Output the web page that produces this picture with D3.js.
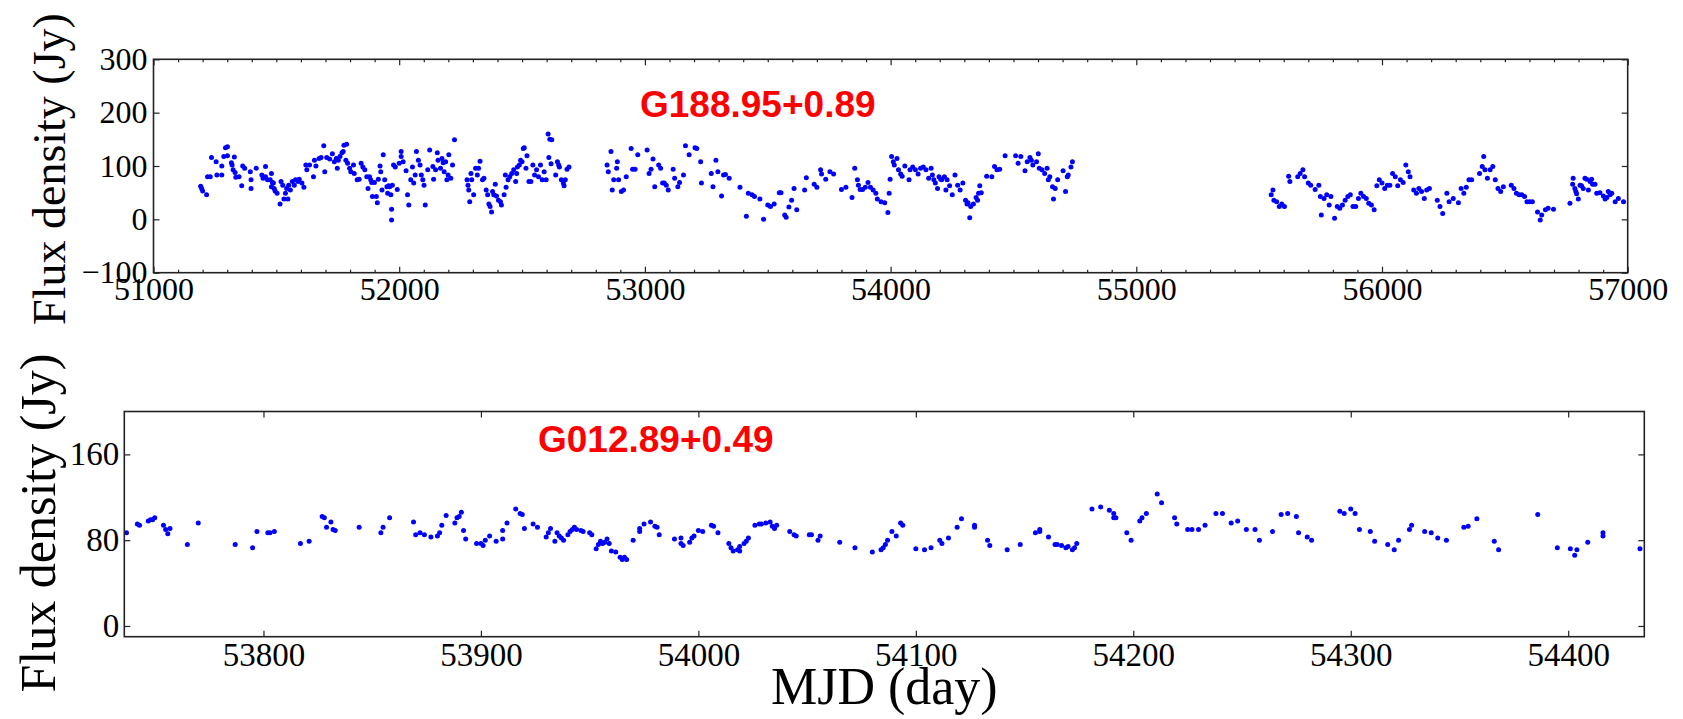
<!DOCTYPE html>
<html>
<head>
<meta charset="utf-8">
<script src="https://cdn.jsdelivr.net/npm/d3@7"></script>
<style>
  body { margin: 0; background: #fff; }
</style>
</head>
<body>
<div id="chart-area"></div>
<script>
// G188.95+0.89 light curve (MJD, Jy)
var g188Mjd = [51192,51196,51200,51216,51220,51231,51236,51255,51258,51278,51278,51286,51293,51301,51301,51317,51320,51329,51324,51332,51335,51348,51359,51363,51371,51394,51397,51397,51418,51441,51446,51456,51456,51464,51475,51480,51484,51488,51480,51491,51495,51503,51515,51519,51526,51531,51537,51542,51547,51550,51557,51565,51573,51578,51588,51593,51604,51612,51620,51624,51635,51651,51655,51661,51674,51682,51693,51697,51705,51717,51728,51736,51744,51748,51752,51759,51767,51772,51775,51786,51783,51790,51798,51803,51814,51817,51829,51837,51845,51852,51860,51868,51873,51879,51884,51888,51891,51899,51907,51911,51915,51922,51925,51930,51935,51941,51950,51953,51957,51961,51966,51969,51969,51972,51977,51984,51992,52000,52008,52008,52016,52028,52034,52039,52047,52054,52059,52065,52070,52078,52085,52090,52096,52101,52106,52116,52124,52137,52140,52148,52155,52158,52168,52174,52179,52183,52189,52194,52199,52202,52210,52217,52225,
  52276,52280,52283,52287,52292,52295,52303,52311,52318,52323,52329,52339,52345,52354,52360,52365,52370,52376,52380,52385,52391,52396,52404,52412,52416,52427,52432,52435,52443,52450,52458,52466,52474,52478,52481,52489,52494,52500,52505,52509,52516,52520,52528,52536,52544,52551,52559,52567,52575,52582,52590,52598,52606,52609,52613,52618,52621,52637,52644,52649,52652,52660,52668,52671,52676,52683,52691,
  52846,52851,52862,52867,52873,52885,52888,52893,52904,52913,52924,52944,52950,52960,52971,53009,53017,53025,53033,53040,53056,53064,53072,53079,53087,53095,53115,53121,53134,53141,53157,53165,53180,53204,53211,53227,53230,53270,53277,53289,53297,53312,53320,53328,53343,53387,53413,53421,
  53436,53446,53468,53483,53500,53511,53526,53547,53554,53569,53575,53586,53597,53607,53618,53650,53657,53689,53700,53715,53719,53736,53753,53768,53800,53818,53843,53854,53865,53869,53876,53886,53897,53908,53918,53929,53940,53946,53961,53976,53989,53994,53998,54004,54011,54015,54026,54032,54041,54047,54058,54075,54079,54090,54101,54112,54122,54133,54144,54155,54165,54170,54176,54182,54191,54197,54204,54208,54219,54225,54230,54240,54251,54262,54273,54283,54294,54305,54311,54315,54322,54326,54337,54348,54354,54358,54363,54369,54391,54412,54423,54433,54444,54466,54509,54519,54530,54547,54556,54567,54573,54579,54594,54601,54605,54616,54627,54637,54642,54648,54659,54663,54670,54680,54702,54712,54719,54723,54734,54740,
  55549,55556,55560,55571,55582,55592,55603,55620,55625,55657,55667,55678,55685,55700,55710,55728,55743,55749,55753,55764,55775,55785,55792,55807,55818,55828,55839,55850,55861,55871,55882,55893,55904,55914,55925,55936,55946,55957,55968,55979,55989,56000,56011,56022,56032,56043,56054,56064,56075,56086,56097,56107,56114,56129,56140,56150,56161,56172,56182,56193,56225,56236,56247,56264,56273,56290,56311,56322,56333,56343,56354,56365,56397,56408,56414,56419,56429,56440,56451,56461,56472,56483,56494,56526,56537,56547,56558,56569,56580,56590,56601,56612,56633,56644,56650,56665,56676,56698,
  56765,56776,56778,56785,56789,56792,56799,56806,56812,56819,56826,56833,56840,56847,56853,56857,56867,56874,56887,56901,56908,56915,56921,56928,56935,56949,56962,56983];
var g188Flux = [62,58,53,46,80,80,116,108,83,100,83,118,134,136,119,106,102,117,93,88,79,80,63,100,96,89,74,58,96,83,77,99,80,74,74,86,69,68,61,58,53,49,29,71,64,38,49,58,38,64,55,71,64,74,71,75,68,60,102,93,102,80,111,100,114,116,138,89,116,113,123,108,114,96,111,118,125,127,139,141,111,105,96,89,102,86,74,75,105,98,93,80,58,80,74,69,43,69,43,31,75,100,89,55,121,74,61,49,63,61,46,19,-1,64,102,98,56,105,127,118,108,91,46,27,74,98,68,83,127,111,102,83,74,64,27,93,130,99,75,93,125,111,96,114,106,89,108,74,83,121,77,102,149,
  74,64,55,33,86,74,46,96,83,96,109,74,77,55,46,29,24,14,52,46,66,44,36,33,27,46,83,60,74,80,86,93,71,86,98,102,111,108,133,134,96,119,71,71,102,83,93,80,102,74,89,74,160,116,150,104,149,83,108,102,98,74,68,63,74,94,98,
  102,89,127,55,74,96,108,74,52,55,80,133,94,94,121,130,86,94,113,61,102,96,68,68,64,55,94,77,61,69,83,138,121,134,133,108,68,86,61,111,89,44,83,84,77,60,6,49,
  46,43,38,0,27,24,29,50,50,8,4,23,36,58,18,55,78,66,60,93,85,75,89,85,56,60,41,96,74,64,56,56,60,69,60,55,49,38,33,31,13,49,75,118,108,102,114,93,85,81,100,74,93,98,93,85,96,98,93,77,96,83,74,68,58,80,75,74,80,55,74,63,46,83,64,55,68,36,29,31,3,24,29,41,36,49,63,50,81,80,99,93,94,119,119,105,118,91,108,116,111,102,108,123,96,93,86,96,74,80,61,38,58,74,91,52,80,83,98,108,
  46,55,36,33,24,29,24,81,71,80,86,93,80,68,64,56,64,43,8,39,46,27,43,2,24,21,27,36,43,46,24,24,39,49,43,39,30,27,18,63,74,68,58,64,64,86,80,63,74,69,102,89,80,55,49,58,52,39,55,58,36,24,11,49,33,39,31,58,49,60,74,74,86,99,118,93,77,93,99,74,58,52,61,64,58,49,46,46,43,33,33,33,14,-1,8,18,21,19,
  30,66,77,58,52,48,38,64,63,58,77,75,55,71,75,66,66,49,50,44,38,41,52,46,49,33,39,33];

// G012.89+0.49 light curve (MJD, Jy)
var g012Mjd = [53737,53742,53743,53747,53748,53749,53750,53754,53755,53756,53757,53765,53770,53787,53795,53797,53802,53803,53805,53817,53821,53827,53828,53831,53829,53832,53833,53844,53854,53855,53858,53869,53870,53872,53874,53877,53880,53881,53882,53884,53888,53889,53890,53891,53892,53893,53898,53900,53901,53902,53904,53907,53910,53910,53912,53916,53918,53919,53920,53924,53926,53930,53931,53932,53934,53935,53936,53937,53938,53940,53941,53942,53943,53944,53946,53947,53950,53951,53953,53954,53955,53956,53957,53958,53959,53960,53962,53964,53965,53966,53967,53970,53973,53973,53975,53978,53980,53981,53982,53989,53992,53992,53993,53996,53997,53998,54000,54002,54006,54007,54009,54014,54015,54016,54018,54019,54019,54021,54022,54023,54026,54028,54029,54031,54033,54034,54035,54036,54042,54044,54045,54051,54052,54055,54056,54065,54072,
  54080,54084,54085,54086,54087,54089,54091,54093,54094,54100,54104,54107,54111,54112,54115,54119,54121,54127,54127,54133,54134,54142,54148,54155,54157,54157,54161,54164,54165,54167,54169,54170,54172,54173,54174,54181,54185,54189,54191,54191,54192,54197,54199,54203,54204,54206,54211,54213,54219,54220,54225,54227,54230,54233,54238,54241,54245,54248,54252,54256,54258,54264,54268,54271,54275,54276,54280,54282,54295,54297,54300,54302,54304,54309,54311,54317,54320,54322,54327,54328,54334,54337,54340,54344,54352,54354,54358,54366,54368,54386,54395,54401,54403,54404,54409,54416,54416,54433];
var g012Flux = [87,95,94,98,99,99,101,94,90,86,91,76,96,76,73,88,87,87,88,77,79,102,101,97,92,90,89,92,87,92,101,97,85,87,85,83,84,87,94,103,96,101,102,106,89,81,77,77,75,80,84,79,81,89,96,109,105,104,91,95,92,83,87,91,79,87,84,82,80,85,88,90,92,90,89,88,87,85,72,76,79,77,78,81,77,70,69,64,62,64,62,80,88,91,95,97,93,92,85,81,82,77,75,78,82,84,89,88,94,93,87,77,73,70,71,70,74,77,79,82,94,95,95,96,97,93,91,94,88,85,84,85,85,80,84,78,73,
  69,71,73,76,80,88,84,96,94,72,71,73,80,77,82,92,100,94,92,80,75,71,76,87,90,88,83,76,76,75,73,74,71,73,77,109,111,108,105,101,101,87,80,98,101,105,123,115,101,95,90,90,90,94,105,105,96,98,90,90,80,88,104,105,102,87,83,80,107,105,109,105,90,88,79,76,71,80,90,94,88,87,82,80,92,93,100,79,71,104,73,72,66,71,78,87,84,72];

// Axis ticks
var g188XMajor = [51000, 52000, 53000, 54000, 55000, 56000, 57000];
var g188YTicks = [-100, 0, 100, 200, 300];
var g012XTicks = [53800, 53900, 54000, 54100, 54200, 54300, 54400];
var g012YTicks = [0, 80, 160];

var width = 1683;
var height = 719;
var serif = "'Liberation Serif', 'Times New Roman', serif";

var svg = d3.select("#chart-area")
    .append("svg")
    .attr("width", width)
    .attr("height", height)
    .style("display", "block")
    .style("background", "#fff");

function drawPanel(opt) {
    var x = d3.scaleLinear().domain(opt.xDomain).range([opt.left, opt.right]);
    var y = d3.scaleLinear().domain(opt.yDomain).range([opt.bottom, opt.top]);
    var fmt = (d) => { return d < 0 ? "\u2212" + Math.abs(d) : String(d); };

    var clipId = "clip-" + opt.id;
    svg.append("clipPath").attr("id", clipId)
        .append("rect")
        .attr("x", opt.left).attr("y", opt.top)
        .attr("width", opt.right - opt.left).attr("height", opt.bottom - opt.top);

    // points
    var pts = opt.mjd.map((m, i) => { return {mjd: m, flux: opt.flux[i]}; });
    svg.append("g")
        .attr("clip-path", "url(#" + clipId + ")")
        .selectAll("circle")
        .data(pts)
        .enter()
        .append("circle")
        .attr("cx", (d) => { return x(d.mjd); })
        .attr("cy", (d) => { return y(d.flux); })
        .attr("r", 2.5)
        .attr("fill", "#0000ff");

    function style(g, size) {
        g.select(".domain").remove();
        g.selectAll("line").attr("stroke", "#222").attr("stroke-width", 1.2);
        g.selectAll("text").attr("fill", "#000");
        g.attr("font-family", serif).attr("font-size", size);
    }

    // bottom axis with labels
    svg.append("g")
        .attr("transform", "translate(0," + opt.bottom + ")")
        .call(d3.axisBottom(x).tickValues(opt.xTicks).tickSizeInner(-6).tickSizeOuter(0)
            .tickPadding(opt.xPad).tickFormat(d3.format("d")))
        .call((g) => style(g, opt.tickFont));
    svg.append("g")
        .attr("transform", "translate(0," + opt.top + ")")
        .call(d3.axisTop(x).tickValues(opt.xTicks).tickSizeInner(-6).tickSizeOuter(0).tickFormat(""))
        .call((g) => style(g, opt.tickFont));
    if (opt.xMinor) {
        svg.append("g")
            .attr("transform", "translate(0," + opt.bottom + ")")
            .call(d3.axisBottom(x).tickValues(opt.xMinor).tickSizeInner(-3).tickSizeOuter(0).tickFormat(""))
            .call((g) => style(g, opt.tickFont));
        svg.append("g")
            .attr("transform", "translate(0," + opt.top + ")")
            .call(d3.axisTop(x).tickValues(opt.xMinor).tickSizeInner(-3).tickSizeOuter(0).tickFormat(""))
            .call((g) => style(g, opt.tickFont));
    }

    // left / right axes
    svg.append("g")
        .attr("transform", "translate(" + opt.left + ",0)")
        .call(d3.axisLeft(y).tickValues(opt.yTicks).tickSizeInner(-6).tickSizeOuter(0)
            .tickPadding(opt.yPad).tickFormat(fmt))
        .call((g) => style(g, opt.tickFont));
    svg.append("g")
        .attr("transform", "translate(" + opt.right + ",0)")
        .call(d3.axisRight(y).tickValues(opt.yTicks).tickSizeInner(-6).tickSizeOuter(0).tickFormat(""))
        .call((g) => style(g, opt.tickFont));

    // frame
    svg.append("rect")
        .attr("x", opt.left).attr("y", opt.top)
        .attr("width", opt.right - opt.left).attr("height", opt.bottom - opt.top)
        .attr("fill", "none")
        .attr("stroke", "#222")
        .attr("stroke-width", 1.6);

    // source name
    svg.append("text")
        .attr("x", opt.nameX).attr("y", opt.nameY)
        .attr("font-family", "'Liberation Sans', Arial, sans-serif")
        .attr("font-weight", "bold")
        .attr("font-size", "37px")
        .attr("fill", "#ff0000")
        .text(opt.name);

    // Y axis label
    svg.append("text")
        .attr("transform", "translate(" + opt.yLabelX + "," + opt.yLabelY + ") rotate(-90)")
        .attr("text-anchor", "middle")
        .attr("font-family", serif)
        .attr("font-size", opt.yLabelFont)
        .attr("fill", "#000")
        .text("Flux density (Jy)");

    return x;
}

var minor = d3.range(51000, 57001, 100).filter((d) => { return d % 1000 !== 0; });

drawPanel({
    id: "g188", name: "G188.95+0.89", nameX: 640, nameY: 117,
    mjd: g188Mjd, flux: g188Flux,
    xDomain: [51000, 57000], yDomain: [-100, 300],
    left: 153.5, right: 1627.7, top: 59.3, bottom: 272.7,
    xTicks: g188XMajor, xMinor: minor, yTicks: g188YTicks,
    xPad: 5, yPad: 6, tickFont: "32px",
    yLabelX: 65, yLabelY: 169, yLabelFont: "46px"
});

drawPanel({
    id: "g012", name: "G012.89+0.49", nameX: 538, nameY: 452,
    mjd: g012Mjd, flux: g012Flux,
    xDomain: [53736, 54435], yDomain: [-10, 200],
    left: 124.3, right: 1644.3, top: 411.5, bottom: 636.7,
    xTicks: g012XTicks, xMinor: null, yTicks: g012YTicks,
    xPad: 5.5, yPad: 5, tickFont: "33px",
    yLabelX: 55, yLabelY: 523, yLabelFont: "50px"
});

// X axis label
svg.append("text")
    .attr("x", (124.3 + 1644.3) / 2)
    .attr("y", 704)
    .attr("text-anchor", "middle")
    .attr("font-family", serif)
    .attr("font-size", "52px")
    .attr("fill", "#000")
    .text("MJD (day)");
</script>
</body>
</html>
